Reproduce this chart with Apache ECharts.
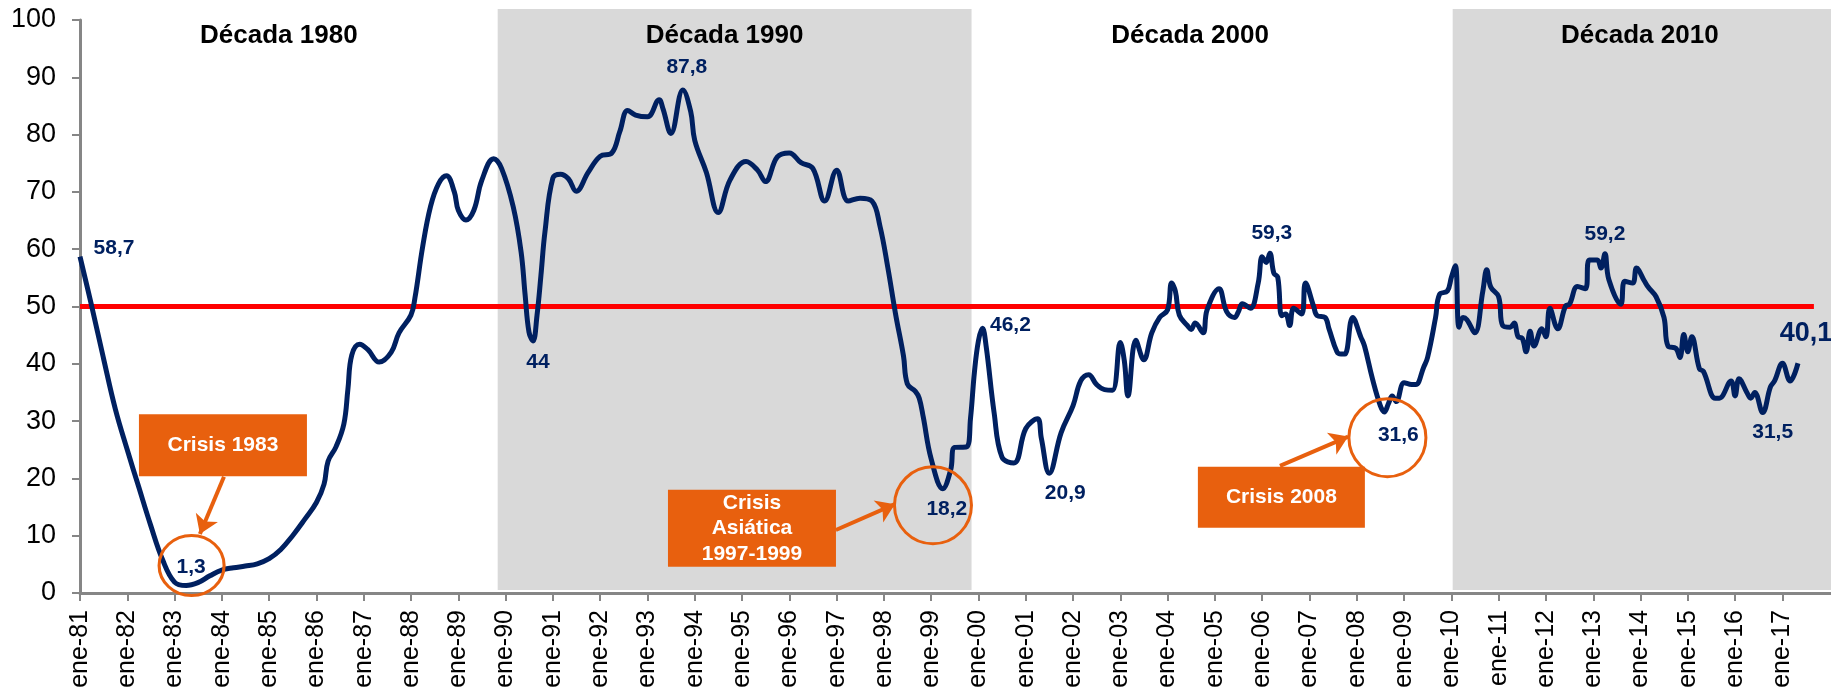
<!DOCTYPE html>
<html><head><meta charset="utf-8">
<script src="https://cdn.jsdelivr.net/npm/echarts@6/dist/echarts.min.js"></script>
<style>html,body{margin:0;padding:0;background:#fff}#c{width:1831px;height:693px}</style>
</head><body><div id="c"></div>
<script>
// ---------------- DATA ----------------
const pmi1980s = [['1981-01',58.7],['1981-04',50.1],['1981-07',41.0],['1981-10',32.1],['1982-01',25.0],['1982-04',18.4],['1982-07',11.8],['1982-10',5.8],['1983-01',1.9],['1983-04',1.3],['1983-07',1.8],['1983-10',3.0],['1984-01',4.0],['1984-04',4.4],['1984-07',4.7],['1984-10',5.1],['1985-01',6.0],['1985-04',7.6],['1985-07',10.0],['1985-10',12.8],['1986-01',15.8],['1986-03',19.0],['1986-04',23.0],['1986-06',25.5],['1986-08',29.5],['1986-09',35.5],['1986-10',41.5],['1986-12',43.4],['1987-02',42.5],['1987-05',40.3],['1987-08',42.0],['1987-10',45.4],['1988-01',48.5],['1988-02',51.5],['1988-04',60.5],['1988-06',67.5],['1988-08',71.4],['1988-10',72.8],['1988-12',70.0],['1989-01',66.8],['1989-03',65.1],['1989-05',66.8],['1989-07',72.0],['1989-10',75.8],['1989-12',74.1]];
const pmi1990s = [['1990-03',67.4],['1990-05',59.5],['1990-06',52.0],['1990-07',45.5],['1990-08',44.0],['1990-09',48.5],['1990-10',55.4],['1990-11',63.0],['1991-01',72.4],['1991-03',73.1],['1991-05',72.3],['1991-07',70.1],['1991-10',73.4],['1992-01',76.2],['1992-04',76.8],['1992-06',80.5],['1992-08',84.2],['1992-10',83.4],['1993-01',83.1],['1993-04',86.1],['1993-05',84.5],['1993-07',80.2],['1993-10',87.8],['1993-12',84.0],['1994-01',79.0],['1994-04',73.4],['1994-07',66.4],['1994-10',72.1],['1995-02',75.3],['1995-05',73.8],['1995-07',71.8],['1995-10',76.1],['1996-01',76.8],['1996-04',75.1],['1996-07',74.1],['1996-10',68.4],['1997-01',73.8],['1997-04',68.4],['1997-07',68.9],['1997-10',68.4],['1997-12',64.1],['1998-02',56.7],['1998-04',48.7],['1998-06',41.4],['1998-07',36.5],['1998-09',35.2],['1998-10',34.0],['1998-11',30.7],['1999-01',23.4],['1999-04',18.2],['1999-06',21.5],['1999-07',25.4],['1999-10',25.5],['1999-11',30.5],['1999-12',38.5]];
const pmi2000s = [['2000-01',44.0],['2000-02',46.2],['2000-03',43.0],['2000-05',31.5],['2000-07',23.7],['2000-10',22.7],['2001-01',28.7],['2001-04',30.4],['2001-05',27.0],['2001-07',20.9],['2001-10',28.0],['2002-01',32.7],['2002-03',37.0],['2002-05',38.1],['2002-07',36.4],['2002-09',35.5],['2002-11',35.4],['2003-01',43.7],['2003-02',40.5],['2003-03',34.4],['2003-05',44.1],['2003-07',40.7],['2003-09',45.4],['2003-11',48.1],['2004-01',49.4],['2004-02',54.1],['2004-03',52.7],['2004-04',48.5],['2004-06',46.7],['2004-07',46.0],['2004-08',47.1],['2004-10',45.4],['2004-11',49.4],['2005-02',53.1],['2005-04',49.1],['2005-06',48.1],['2005-07',49.1],['2005-08',50.5],['2005-10',49.7],['2005-12',54.1],['2006-01',58.7],['2006-02',57.7],['2006-03',59.3],['2006-04',55.8],['2006-05',55.1],['2006-06',48.4],['2006-07',48.7],['2006-08',46.7],['2006-09',49.7],['2006-11',48.7],['2006-12',54.1],['2007-02',50.1],['2007-03',48.4],['2007-05',48.1],['2007-06',46.1],['2007-08',42.1],['2007-09',41.7],['2007-10',41.7],['2007-12',48.1],['2008-02',44.7],['2008-03',43.1],['2008-05',37.4],['2008-07',32.7],['2008-08',31.6],['2008-09',33.0],['2008-10',34.4],['2008-11',33.4],['2009-01',36.7],['2009-03',36.4],['2009-04',36.4],['2009-06',39.4],['2009-07',41.1],['2009-09',48.1],['2009-10',52.1],['2009-12',52.7]];
const pmi2010s = [['2010-01',55.1],['2010-02',57.1],['2010-03',46.4],['2010-04',48.1],['2010-05',47.7],['2010-07',45.4],['2010-09',52.7],['2010-10',56.4],['2010-11',53.4],['2011-01',51.7],['2011-02',46.7],['2011-04',46.4],['2011-05',47.1],['2011-06',44.7],['2011-07',44.5],['2011-08',42.1],['2011-09',45.7],['2011-10',43.1],['2011-12',46.1],['2012-01',44.7],['2012-02',49.7],['2012-04',46.1],['2012-06',50.1],['2012-07',50.4],['2012-09',53.5],['2012-11',53.1],['2012-12',58.1],['2013-02',58.1],['2013-03',56.7],['2013-04',59.2],['2013-05',54.7],['2013-08',50.4],['2013-09',54.4],['2013-11',54.1],['2013-12',56.7],['2014-02',54.4],['2014-03',53.4],['2014-05',51.7],['2014-07',48.1],['2014-08',43.1],['2014-10',42.7],['2014-11',41.1],['2014-12',45.1],['2015-01',42.1],['2015-02',44.7],['2015-04',39.1],['2015-05',38.7],['2015-08',34.0],['2015-09',34.0],['2015-12',37.0],['2016-01',34.4],['2016-02',37.4],['2016-04',35.0],['2016-05',34.0],['2016-06',35.0],['2016-08',31.5],['2016-10',36.0],['2016-11',37.0],['2017-01',40.1],['2017-03',37.0],['2017-05',40.1]];

const threshold = 50;
const tickYears = [];
for (let y = 1981; y <= 2017; y++) tickYears.push(y);
const tickLabels = tickYears.map(y => 'ene-' + String(y).slice(2));

const decadeNames = ['Década 1980', 'Década 1990', 'Década 2000', 'Década 2010'];
const decadeBounds = ['1981-01-01', '1989-11-01', '1999-11-09', '2010-01-11', '2018-01-11'];
const decadeShaded = [false, true, false, true];

const peakLabels = [
  {text:'58,7', date:'1981-01', value:58.7},
  {text:'1,3',  date:'1983-04', value:1.3},
  {text:'44',   date:'1990-08', value:44.0},
  {text:'87,8', date:'1993-10', value:87.8},
  {text:'18,2', date:'1999-04', value:18.2},
  {text:'46,2', date:'2000-02', value:46.2},
  {text:'20,9', date:'2001-07', value:20.9},
  {text:'59,3', date:'2006-03', value:59.3},
  {text:'31,6', date:'2008-08', value:31.6},
  {text:'59,2', date:'2013-04', value:59.2},
  {text:'31,5', date:'2016-08', value:31.5},
  {text:'40,1', date:'2017-05', value:40.1}
];
const crisisTexts = ['Crisis 1983', 'Crisis\nAsiática\n1997-1999', 'Crisis 2008'];

// ---------------- LAYOUT / STYLE ----------------
const T = s => { const p = s.split('-').map(Number); return new Date(p[0], (p[1] || 1) - 1, p[2] || 1).getTime(); };
const font = '"Liberation Sans", Arial, Helvetica, sans-serif';
const navy = '#002060', orange = '#E8600E', red = '#FF0000', axisGray = '#868686', shade = '#D9D9D9';
const xMin = T('1981-01-01'), xMax = T('2018-01-11');
const thresholdEnd = '2017-09-01';
const tickTimes = tickYears.map(y => T(y + '-01-01'));
const decadeLabelOffsets = [[-10, 0], [-10, 0], [-22, 0], [-2, 0]];
const peakLabelOffsets = [[34,-8],[5,-18],[5,21],[4,-23],[4,20],[28,-3],[16,20],[2,-20],[14,23],[0,-20],[10,20],[8,-30]];
const peakLabelSizes = [21,21,21,21,21,21,21,21,21,21,21,27];
const crisisLayout = [
  {box:['1984-01-10',25.8], boxSize:[168,62], circle:['1983-05-13',4.8], circleSize:[65,60], from:['1984-01-18',20.3], to:['1983-07-16',10.3]},
  {box:['1995-03-19',11.3], boxSize:[168,77], circle:['1999-01-15',15.3], circleSize:[77,77], from:['1996-12-26',11.0], to:['1998-03-27',15.5]},
  {box:['2006-05-29',16.7], boxSize:[167,61], circle:['2008-08-25',27.1], circleSize:[77,78], from:['2006-05-18',22.2], to:['2007-10-27',27.3]}
];
const ellipsePath = 'path://M0,50A50,50,0,1,1,100,50A50,50,0,1,1,0,50Z';

// ---------------- BUILD ----------------
const pmi = pmi1980s.concat(pmi1990s, pmi2000s, pmi2010s).map(d => [T(d[0]), d[1]]);

const areas = decadeNames.map((n, i) => [
  {name: n, xAxis: T(decadeBounds[i]),
   itemStyle: {color: decadeShaded[i] ? shade : 'rgba(0,0,0,0)'},
   label: {offset: decadeLabelOffsets[i]}},
  {xAxis: T(decadeBounds[i + 1])}
]);

const markPoints = [];
peakLabels.forEach((p, i) => {
  markPoints.push({
    coord: [T(p.date), p.value], symbol: 'circle', symbolSize: 1,
    itemStyle: {color: 'rgba(0,0,0,0)'},
    label: {show: true, position: 'inside', offset: peakLabelOffsets[i], formatter: p.text,
            color: navy, fontWeight: 'bold', fontSize: peakLabelSizes[i], fontFamily: font}
  });
});
crisisTexts.forEach((txt, i) => {
  const L = crisisLayout[i];
  markPoints.push({
    coord: [T(L.circle[0]), L.circle[1]], symbol: ellipsePath, symbolSize: L.circleSize,
    itemStyle: {color: 'rgba(0,0,0,0)', borderColor: orange, borderWidth: 3},
    label: {show: false}
  });
  markPoints.push({
    coord: [T(L.box[0]), L.box[1]], symbol: 'rect', symbolSize: L.boxSize,
    itemStyle: {color: orange, borderWidth: 0},
    label: {show: true, position: 'inside', formatter: txt, color: '#fff', fontWeight: 'bold',
            fontSize: 21, lineHeight: 25.5, fontFamily: font, align: 'center'}
  });
});
const arrows = crisisLayout.map(L => [
  {coord: [T(L.from[0]), L.from[1]]},
  {coord: [T(L.to[0]), L.to[1]]}
]);

const chart = echarts.init(document.getElementById('c'), null, {renderer: 'canvas'});
chart.setOption({
  animation: false,
  backgroundColor: '#fff',
  grid: [
    {left: 80, right: 0, top: 20, bottom: 100},
    {left: 80, right: 0, top: 9, bottom: 103}
  ],
  xAxis: [
    {type: 'value', gridIndex: 0, min: xMin, max: xMax,
     axisLine: {show: true, onZero: false, lineStyle: {color: axisGray, width: 3}},
     axisTick: {show: true, customValues: tickTimes, length: 8, inside: false, lineStyle: {color: axisGray, width: 2}},
     axisLabel: {show: true, customValues: tickTimes, rotate: 90, margin: 17, fontSize: 25, color: '#000', fontFamily: font,
                 formatter: v => tickLabels[tickYears.indexOf(new Date(v).getFullYear())] || ''},
     splitLine: {show: false}},
    {type: 'value', gridIndex: 1, min: xMin, max: xMax, show: false}
  ],
  yAxis: [
    {type: 'value', gridIndex: 0, min: 0, max: 100, interval: 10,
     axisLine: {show: true, lineStyle: {color: axisGray, width: 3}},
     axisTick: {show: true, length: 8, lineStyle: {color: axisGray, width: 2}},
     axisLabel: {fontSize: 27, color: '#000', margin: 24, fontFamily: font},
     splitLine: {show: false}},
    {type: 'value', gridIndex: 1, min: 0, max: 1, show: false}
  ],
  series: [
    {name: 'decadas', type: 'line', xAxisIndex: 1, yAxisIndex: 1, data: [], silent: true, z: 0,
     markArea: {silent: true, z: 0,
       label: {show: true, position: 'insideTop', distance: 14, formatter: '{b}', color: '#000',
               fontWeight: 'bold', fontSize: 26, fontFamily: font},
       data: areas}},
    {name: 'umbral', type: 'line', xAxisIndex: 0, yAxisIndex: 0, z: 2, silent: true,
     data: [[xMin, threshold], [T(thresholdEnd), threshold]],
     symbol: 'none', lineStyle: {color: red, width: 5}},
    {name: 'PMI', type: 'line', xAxisIndex: 0, yAxisIndex: 0, z: 3, data: pmi,
     smooth: 0.4, symbol: 'none', showSymbol: false, lineStyle: {color: navy, width: 5}},
    {name: 'anotaciones', type: 'line', xAxisIndex: 0, yAxisIndex: 0, z: 4, data: [], silent: true,
     markPoint: {silent: true, data: markPoints},
     markLine: {silent: true, symbol: ['none', 'arrow'], symbolSize: 18,
       lineStyle: {color: orange, width: 4, type: 'solid'}, label: {show: false}, data: arrows}}
  ]
});
</script></body></html>
